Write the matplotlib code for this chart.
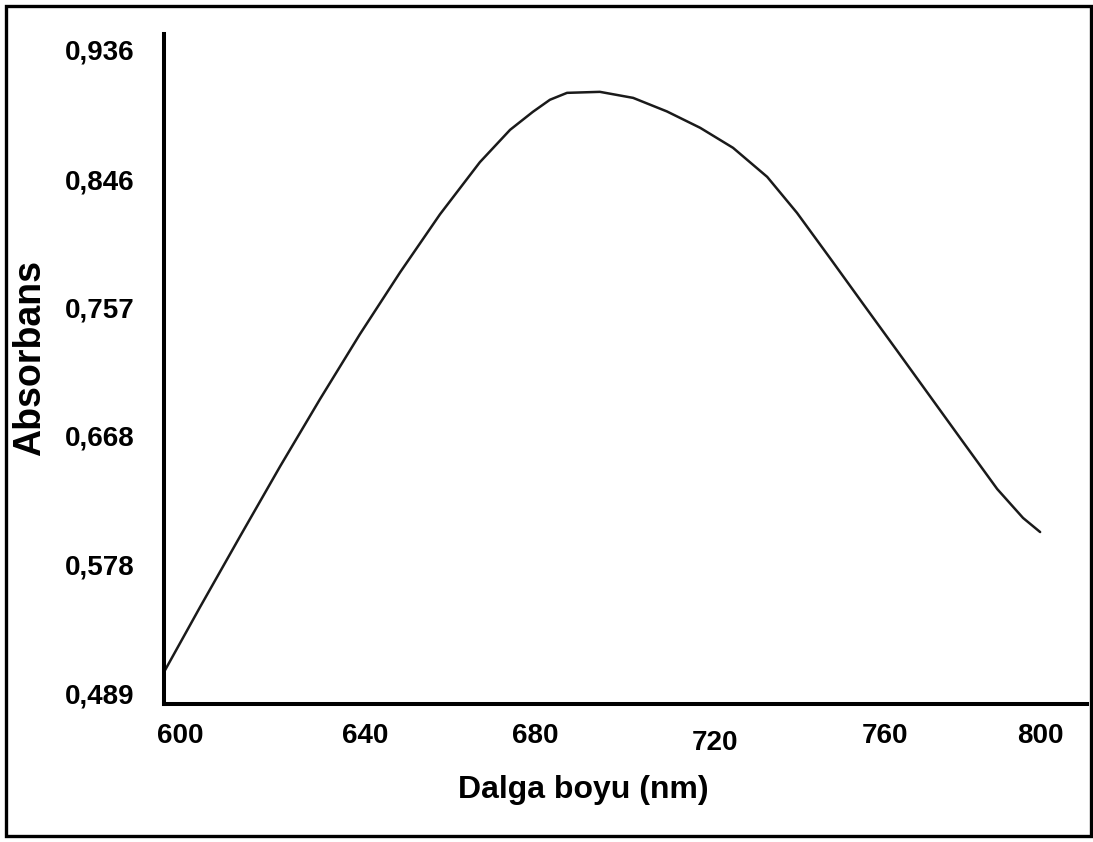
import matplotlib
matplotlib.use("Agg")
import matplotlib.pyplot as plt
from matplotlib.patches import Rectangle
from matplotlib.transforms import ScaledTranslation

# Data
wavelength = [600.0, 608.2, 617.4, 626.5, 635.6, 644.7, 653.9, 663.0, 672.1, 679.0,
              684.2, 688.1, 692.0, 699.5, 707.1, 714.8, 722.4, 729.9, 737.7, 744.5,
              752.1, 759.6, 767.4, 774.9, 782.4, 790.2, 796.1, 800.0]
absorbance = [0.5036, 0.5486, 0.5981, 0.6465, 0.6932, 0.7383, 0.7814, 0.8217, 0.8579, 0.8804,
              0.8929, 0.9013, 0.9061, 0.9068, 0.9026, 0.8932, 0.8818, 0.8679, 0.8477, 0.8227,
              0.7910, 0.7594, 0.7267, 0.6951, 0.6635, 0.6308, 0.6107, 0.6009]

y_ticks = [0.489, 0.578, 0.668, 0.757, 0.846, 0.936]
y_tick_labels = ["0,489", "0,578", "0,668", "0,757", "0,846", "0,936"]
x_tick_pos = [603.7, 645.9, 684.7, 725.8, 764.6, 800.0]
x_tick_labels = ["600", "640", "680", "720", "760", "800"]

plt.rcParams['font.family'] = ['Liberation Sans', 'DejaVu Sans']

fig = plt.figure(figsize=(10.93, 8.42), dpi=100)
ax = fig.add_axes([164/1093, 1 - 704/842, (1087 - 164)/1093, (704 - 34)/842])

ax.plot(wavelength, absorbance, color='#1a1a1a', linewidth=1.8,
        solid_capstyle='round', solid_joinstyle='round')

ax.set_xlim(600, 810.7)
ax.set_ylim(0.4814, 0.947)

for s in ['top', 'right']:
    ax.spines[s].set_visible(False)
for s in ['left', 'bottom']:
    ax.spines[s].set_linewidth(2.9)
    ax.spines[s].set_color('black')

ax.set_yticks(y_ticks)
ax.set_yticklabels(y_tick_labels, fontsize=20, fontweight='bold')
ax.set_xticks(x_tick_pos)
ax.set_xticklabels(x_tick_labels, fontsize=20, fontweight='bold')
ax.tick_params(axis='y', length=0, pad=21)
ax.tick_params(axis='x', length=0, pad=14)

for lbl in ax.get_xticklabels():
    if lbl.get_text() == "720":
        lbl.set_transform(lbl.get_transform() + ScaledTranslation(0, -7/100, fig.dpi_scale_trans))

ax.set_xlabel("Dalga boyu (nm)", fontsize=23, fontweight='bold', va='center')
ax.xaxis.set_label_coords((583 - 164)/923, (704 - 790)/670)
ax.set_ylabel("Absorbans", fontsize=27, fontweight='bold', va='center')
ax.yaxis.set_label_coords((30 - 164)/923, (704 - 358)/670)

border = Rectangle((6/1093, 6/842), (1091 - 6)/1093, (836 - 6)/842,
                   transform=fig.transFigure, fill=False, edgecolor='black', linewidth=2.4)
fig.patches.append(border)

fig.savefig("out.png", dpi=100)
